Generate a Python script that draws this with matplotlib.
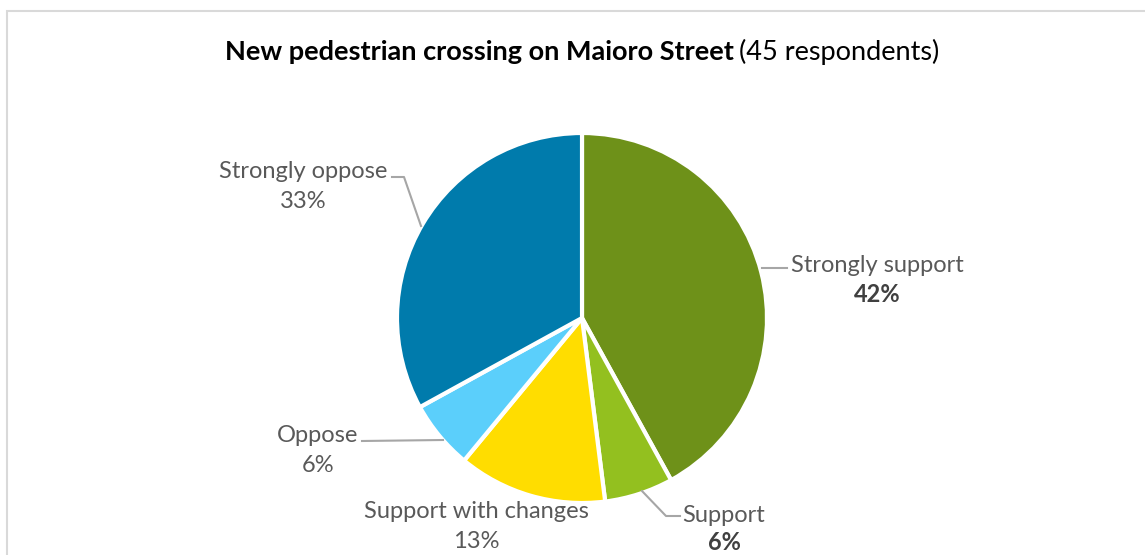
import matplotlib
matplotlib.use("Agg")
import matplotlib.pyplot as plt
from matplotlib.patches import Rectangle

categories = ["Strongly support", "Support", "Support with changes", "Oppose", "Strongly oppose"]
values = [42, 6, 13, 6, 33]
pct_labels = ["42%", "6%", "13%", "6%", "33%"]
pct_bold = [True, True, False, False, False]
colors = ["#6E9119", "#93C01F", "#FFDD00", "#5BCFFB", "#007BAC"]

W, H = 1145, 555
fig = plt.figure(figsize=(W / 100, H / 100), dpi=100)
ax = fig.add_axes([0, 0, 1, 1])

def py(y):
    return H - y

cx, cy, r = 582, py(318), 185
ax.pie(values, colors=colors, startangle=90, counterclock=False,
       center=(cx, cy), radius=r,
       wedgeprops=dict(edgecolor="white", linewidth=3))
ax.set_xlim(0, W)
ax.set_ylim(0, H)
ax.set_aspect("equal")
ax.axis("off")

# chart border (top and left)
fig.patches.append(Rectangle((7 / W, -0.1), 1.2, (H - 11) / H + 0.1, transform=fig.transFigure,
                             fill=False, edgecolor="#D9D9D9", linewidth=1.5))

# title
tfam = ["Lato", "DejaVu Sans"]
ax.text(734, py(52), "New pedestrian crossing on Maioro Street", ha="right", va="center",
        fontsize=19.5, fontweight="bold", family=tfam, color="black")
ax.text(739, py(52), "(45 respondents)", ha="left", va="center",
        fontsize=19.5, family=tfam, color="black")

# labels: (x, y of category line, y of percentage line)
lab_pos = [(877, 265, 295), (724, 516, 543), (476, 512, 541), (318, 436, 465), (303, 172, 201)]
lfam = ["Lato", "DejaVu Sans"]
for cat, pl, b, (x, y1, y2) in zip(categories, pct_labels, pct_bold, lab_pos):
    ax.text(x, py(y1), cat, ha="center", va="center", fontsize=17, fontweight="normal",
            family=lfam, color="#595959")
    ax.text(x, py(y2), pl, ha="center", va="center", fontsize=17,
            fontweight="bold" if b else "normal", family=lfam,
            color="#404040" if b else "#595959")

# leader lines
leaders = [
    [(762, 268), (787, 268)],
    [(642, 491), (666, 516), (680, 516)],
    [(362, 441), (443, 440)],
    [(392, 177), (404, 177), (421, 226)],
]
for pts in leaders:
    xs = [p[0] for p in pts]
    ys = [py(p[1]) for p in pts]
    ax.plot(xs, ys, color="#A6A6A6", linewidth=1.5)

fig.savefig("out.png", dpi=100)
